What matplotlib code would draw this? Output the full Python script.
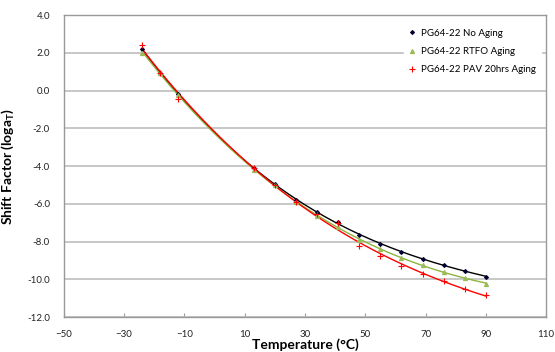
import numpy as np
import matplotlib
matplotlib.use('Agg')
import matplotlib.pyplot as plt

plt.rcParams['font.family'] = ['Lato', 'DejaVu Sans']

# test temperatures (C)
temps = [-24, -18, -12, 13, 20, 27, 34, 41, 48, 55, 62, 69, 76, 83, 90]

# shift factors
no_aging = [2.18, 0.95, -0.17, -4.10, -4.95, -5.80, -6.45, -6.98, -7.63, -8.11, -8.53, -8.93, -9.23, -9.55, -9.85]
rtfo = [2.02, 0.93, -0.24, -4.18, -5.00, -5.92, -6.62, -7.20, -7.90, -8.40, -8.84, -9.26, -9.60, -9.92, -10.22]
pav = [2.42, 0.96, -0.44, -4.12, -4.98, -5.90, -6.55, -7.02, -8.25, -8.75, -9.28, -9.72, -10.11, -10.50, -10.82]

labels = ['PG64-22 No Aging', 'PG64-22 RTFO Aging', 'PG64-22 PAV 20hrs Aging']
colors = ['#000033', '#9BBB59', '#FF0000']
line_colors = ['#000000', '#8DB43E', '#FF0000']
markers = ['D', '^', '+']
msizes = [2.0, 3.0, 4.0]

fig = plt.figure(figsize=(5.55, 3.52), dpi=100)
ax = fig.add_axes([0.115, 0.099, 0.869, 0.858])

t = np.array(temps)
tt = np.linspace(t.min(), t.max(), 200)
for ys, lab, c, lc, m, ms in zip([no_aging, rtfo, pav], labels, colors, line_colors, markers, msizes):
    ys = np.array(ys)
    # polynomial trendline like the spreadsheet one
    p = np.polyfit(t, ys, 3)
    ax.plot(tt, np.polyval(p, tt), color=lc, lw=1.0, zorder=2)
    ax.plot(t, ys, ls='none', marker=m, color=c, ms=ms, mew=0.8, label=lab, zorder=3)

ax.set_xlim(-50, 110)
ax.set_ylim(-12, 4)
ax.set_xticks(np.arange(-50, 111, 20))
ax.set_yticks(np.arange(-12, 4.1, 2))
ax.set_yticklabels([f'{v:.1f}' for v in np.arange(-12, 4.1, 2)])
ax.grid(axis='y', color='#BEBEBE', lw=1.2)
ax.set_axisbelow(True)
for s in ax.spines.values():
    s.set_color('#999999')
    s.set_linewidth(1.0)
ax.tick_params(axis='x', direction='in', length=3, color='#999999', labelsize=7, pad=9,
               labelcolor='#222222')
ax.tick_params(axis='y', length=0, labelsize=7, pad=10, labelcolor='#222222')

ax.set_xlabel('Temperature (°C)', fontsize=10, fontweight='bold', labelpad=0)
ax.set_ylabel('Shift Factor (loga$_\\mathregular{T}$)', fontsize=10, fontweight='bold', labelpad=8)

leg = ax.legend(loc='upper right', bbox_to_anchor=(1.0, 0.99), frameon=True, fontsize=7,
                handlelength=0.5, handletextpad=0.6, labelspacing=0.95, borderpad=0.6)
leg.get_frame().set_edgecolor('white')
leg.get_frame().set_facecolor('white')
leg.get_frame().set_alpha(1)

fig.savefig('out.png', dpi=100)
